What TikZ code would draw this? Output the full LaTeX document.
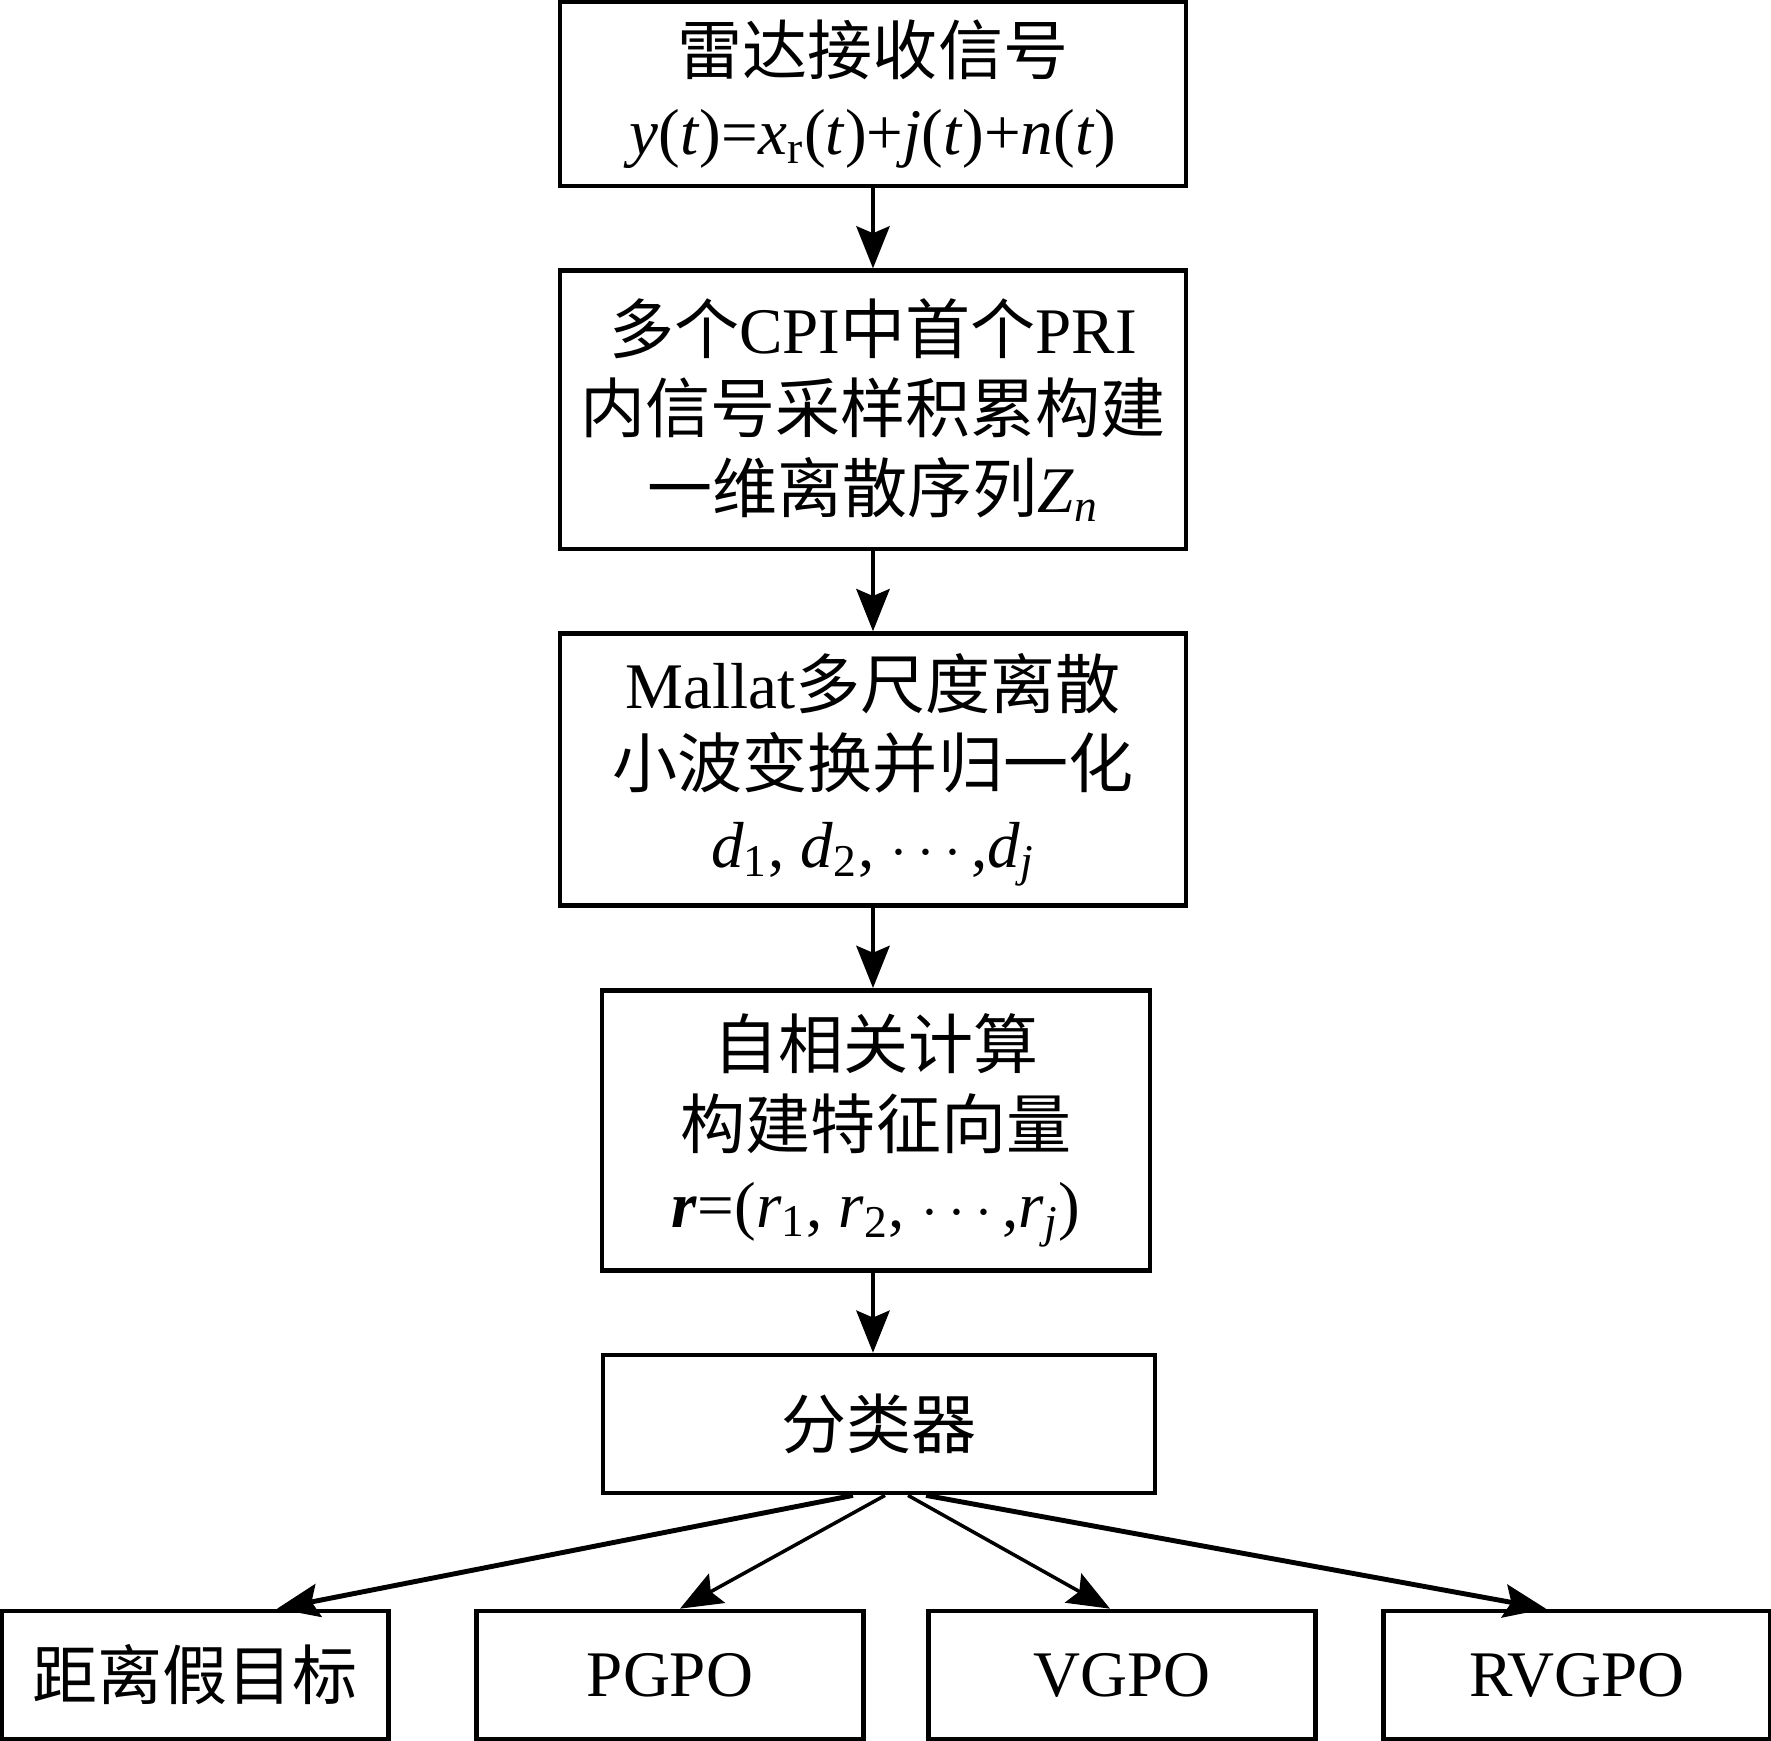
\documentclass[tikz,border=0pt]{standalone}
\usepackage{amsmath}
\usepackage{fontspec}
\setmainfont{Liberation Serif}
\newfontfamily\cjk{Noto Sans CJK SC}
\usepackage{tikz}
\usetikzlibrary{
    arrows.meta,
    positioning
}
\tikzstyle{box} = [
    rectangle, draw,
    line width=1.3pt,
    minimum width=6.26cm,
    text centered,
    align=center,
    draw=black,
    inner sep=0pt,
    font=\cjk\fontsize{18.5}{22.6}\selectfont
]
\tikzstyle{outbox} = [
    box,
    minimum width=3.87cm,
    minimum height=1.28cm
]
\tikzstyle{arrow} = [
    line width=1pt,
    -{Stealth[length=12pt,width=9.5pt,inset=2pt]}
]

\begin{document}
\begin{tikzpicture}[
	x=0.01cm, y=-0.01cm,
	node distance=0.8cm
]
\useasboundingbox (0,0) rectangle (1771,1741);

\node (radar) [box, minimum height=1.84cm] at (873,94)
    {雷达接收信号\\\textrm{\textit{y}(\textit{t})=\textit{x}\textsubscript{r}(\textit{t})+\textit{j}(\textit{t})+\textit{n}(\textit{t})}};
\node (seq) [box, minimum height=2.78cm, below=of radar]
    {多个\textrm{CPI}中首个\textrm{PRI}\\内信号采样积累构建\\一维离散序列\textrm{\textit{Z}\textsubscript{\textit{n}}}};
\node (dwt) [box, minimum height=2.72cm, below=of seq]
    {\textrm{Mallat}多尺度离散\\小波变换并归一化\\\textrm{\textit{d}\textsubscript{1}, \textit{d}\textsubscript{2}, $\cdots$,\textit{d}\textsubscript{\textit{j}}}};
\node (feat) [box, minimum width=5.48cm, minimum height=2.8cm, below=of dwt, xshift=0.03cm]
    {自相关计算\\构建特征向量\\\textrm{\textbf{\textit{r}}=(\textit{r}\textsubscript{1}, \textit{r}\textsubscript{2}, $\cdots$,\textit{r}\textsubscript{\textit{j}})}};
\node (cls) [box, minimum width=5.52cm, minimum height=1.38cm, below=of feat, xshift=0.03cm]
    {分类器};

\node (fake) [outbox] at (195,1675) {距离假目标};
\node (pgpo) [outbox] at (670,1675) {\textrm{PGPO}};
\node (vgpo) [outbox] at (1122,1675) {\textrm{VGPO}};
\node (rvgpo) [outbox] at (1577,1675) {\textrm{RVGPO}};

\draw [arrow] (radar) -- (seq);
\draw [arrow] (seq) -- (dwt);
\draw [arrow] (dwt.south) -- (dwt.south |- feat.north);
\draw [arrow] (feat.south -| dwt.south) -- (dwt.south |- cls.north);

% 分类结果
\draw [arrow, line width=1.4pt] ([xshift=-0.26cm]cls.south) -- ([xshift=0.82cm]fake.north);
\draw [arrow] ([xshift=0.06cm]cls.south) -- ([xshift=0.1cm]pgpo.north);
\draw [arrow] ([xshift=0.29cm]cls.south) -- ([xshift=-0.12cm]vgpo.north);
\draw [arrow, line width=1.4pt] ([xshift=0.47cm]cls.south) -- ([xshift=-0.31cm]rvgpo.north);

\end{tikzpicture}
\end{document}
